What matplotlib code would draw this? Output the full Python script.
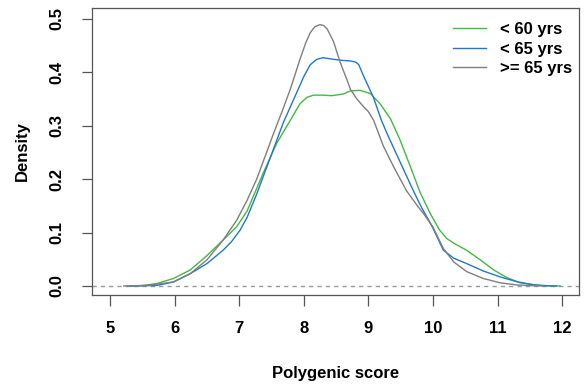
import matplotlib
matplotlib.use("Agg")
import matplotlib.pyplot as plt

plt.rcParams['font.family'] = ['Liberation Sans', 'DejaVu Sans']
plt.rcParams['font.weight'] = 'bold'

# <60 yrs
x_lt60 = [5.26, 5.5, 5.72, 5.98, 6.24, 6.5, 6.75, 6.96, 7.12, 7.37, 7.58, 7.79, 7.94, 8.05, 8.15,
          8.3, 8.43, 8.61, 8.72, 8.87, 9.03, 9.18, 9.34, 9.49, 9.65, 9.8, 9.96, 10.1, 10.21, 10.35,
          10.52, 10.73, 10.94, 11.14, 11.35, 11.66, 11.97]
y_lt60 = [0.0, 0.001, 0.0045, 0.014, 0.03, 0.057, 0.086, 0.111, 0.14, 0.211, 0.267, 0.31, 0.341,
          0.353, 0.357, 0.357, 0.356, 0.359, 0.365, 0.366, 0.36, 0.341, 0.313, 0.273, 0.223, 0.175,
          0.135, 0.105, 0.089, 0.078, 0.067, 0.049, 0.03, 0.016, 0.006, 0.001, 0.0]
# <65 yrs
x_lt65 = [5.31, 5.72, 5.98, 6.24, 6.5, 6.75, 6.88, 7.01, 7.12, 7.27, 7.48, 7.68, 7.89, 8.0, 8.1,
          8.2, 8.3, 8.46, 8.6, 8.72, 8.8, 8.85, 8.92, 9.08, 9.2, 9.3, 9.49, 9.7, 9.83, 9.98, 10.16,
          10.32, 10.52, 10.78, 11.04, 11.3, 11.56, 11.8, 11.91]
y_lt65 = [0.0, 0.001, 0.0075, 0.023, 0.042, 0.067, 0.083, 0.104, 0.128, 0.172, 0.24, 0.305, 0.362,
          0.392, 0.414, 0.424, 0.427, 0.424, 0.422, 0.421, 0.419, 0.414, 0.394, 0.352, 0.31, 0.282,
          0.232, 0.177, 0.145, 0.113, 0.067, 0.052, 0.042, 0.028, 0.017, 0.008, 0.002, 0.0003, 0.0]
# >=65 yrs
x_ge65 = [5.21, 5.57, 5.98, 6.24, 6.5, 6.75, 6.96, 7.12, 7.27, 7.53, 7.68, 7.79, 7.94, 8.03, 8.1,
          8.17, 8.25, 8.31, 8.36, 8.46, 8.56, 8.67, 8.72, 8.82, 8.92, 9.0, 9.08, 9.23, 9.39, 9.59,
          9.77, 9.85, 10.0, 10.16, 10.32, 10.52, 10.78, 11.04, 11.3, 11.56, 11.71]
y_ge65 = [0.0, 0.001, 0.0075, 0.023, 0.049, 0.086, 0.123, 0.16, 0.2, 0.285, 0.332, 0.368, 0.424,
          0.455, 0.474, 0.485, 0.489, 0.487, 0.481, 0.457, 0.419, 0.385, 0.368, 0.35, 0.336, 0.326,
          0.31, 0.262, 0.223, 0.178, 0.148, 0.136, 0.11, 0.07, 0.045, 0.027, 0.014, 0.006, 0.002,
          0.0005, 0.0]

labels = ['< 60 yrs', '< 65 yrs', '>= 65 yrs']
colors = ['#44b844', '#2277cc', '#7f7f7f']
xticks = [5, 6, 7, 8, 9, 10, 11, 12]
yticks = [0.0, 0.1, 0.2, 0.3, 0.4, 0.5]
ytick_labels = ['0.0', '0.1', '0.2', '0.3', '0.4', '0.5']

fig = plt.figure(figsize=(5.84, 3.85), dpi=100)
ax = fig.add_axes([92/584, 1-295/385, (579-92)/584, (295-8)/385])

ax.axhline(0, color='#999999', lw=1, ls=(0, (3, 3)), zorder=1)
for xs, ys, lab, c in zip([x_lt60, x_lt65, x_ge65], [y_lt60, y_lt65, y_ge65], labels, colors):
    ax.plot(xs, ys, color=c, lw=1.0, label=lab, zorder=2, solid_joinstyle='round')

ax.set_xlim(4.72, 12.26)
ax.set_ylim(-0.0168, 0.52)
ax.set_xticks(xticks)
ax.set_xticklabels([str(v) for v in xticks])
ax.set_yticks(yticks)
ax.set_yticklabels(ytick_labels, rotation=90, va='center')
for s in ax.spines.values():
    s.set_color('#555555')
    s.set_linewidth(0.9)
ax.tick_params(axis='x', length=8, width=0.9, color='#555555', pad=11, labelsize=12)
ax.tick_params(axis='y', length=7, width=0.9, color='#555555', pad=13, labelsize=12)

ax.set_xlabel('Polygenic score', fontsize=12, fontweight='bold', labelpad=21)
ax.set_ylabel('Density', fontsize=12, fontweight='bold', labelpad=14)

leg = ax.legend(loc='upper left', bbox_to_anchor=(453/584, 1-22/385), bbox_transform=fig.transFigure,
                frameon=False, fontsize=12, handlelength=1.95, handletextpad=0.9,
                labelspacing=0.28, borderpad=0, borderaxespad=0)

fig.savefig('out.png', dpi=100)
